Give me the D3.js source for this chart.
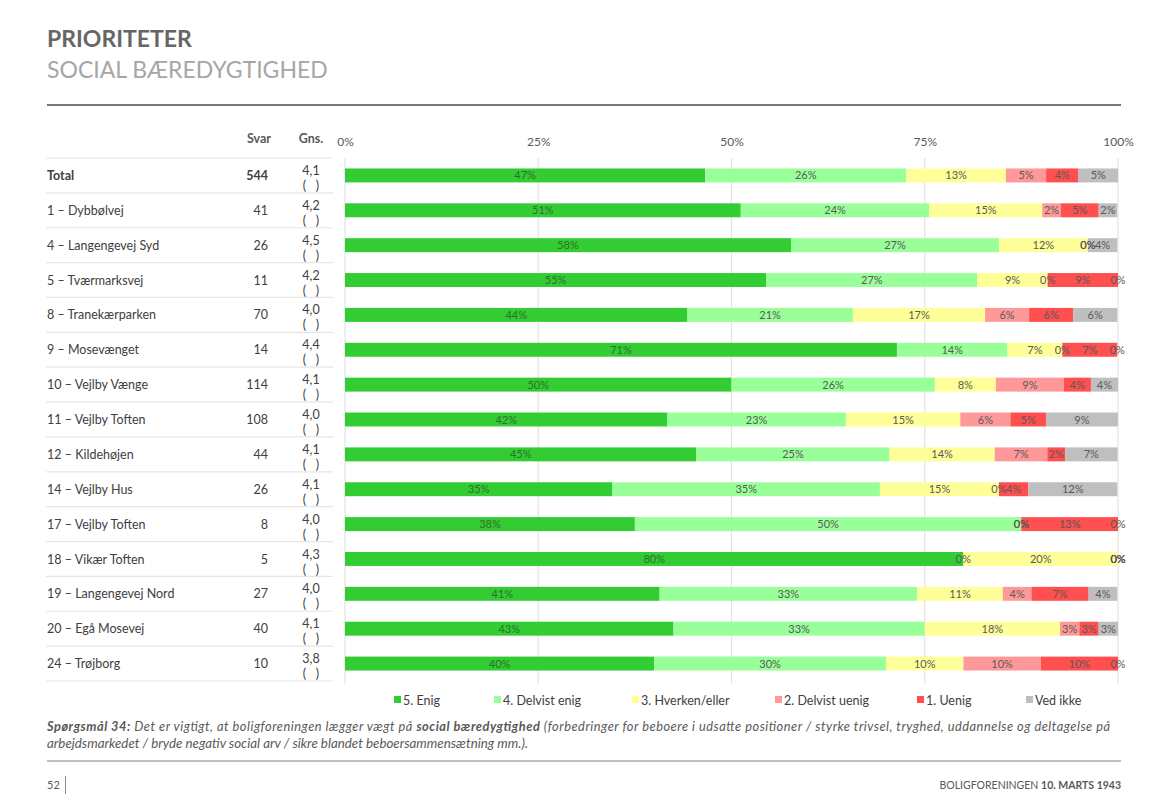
<!DOCTYPE html>
<html>
<head>
<meta charset="utf-8">
<script src="https://cdn.jsdelivr.net/npm/d3@7"></script>
<style>
  html, body { margin: 0; padding: 0; background: #fff; }
  svg { display: block; font-family: Lato, "Open Sans", sans-serif; }
  .pre { white-space: pre; }
</style>
</head>
<body>
<svg id="chart" width="1169" height="810"></svg>
<script>
// ---------- DATA ----------
const categories = [
  "Total", "1 – Dybbølvej", "4 – Langengevej Syd", "5 – Tværmarksvej", "8 – Tranekærparken",
  "9 – Mosevænget", "10 – Vejlby Vænge", "11 – Vejlby Toften", "12 – Kildehøjen", "14 – Vejlby Hus",
  "17 – Vejlby Toften", "18 – Vikær Toften", "19 – Langengevej Nord", "20 – Egå Mosevej", "24 – Trøjborg"
];
const svar = [544, 41, 26, 11, 70, 14, 114, 108, 44, 26, 8, 5, 27, 40, 10];
const gns  = ["4,1", "4,2", "4,5", "4,2", "4,0", "4,4", "4,1", "4,0", "4,1", "4,1", "4,0", "4,3", "4,0", "4,1", "3,8"];

const seriesNames = ["5. Enig", "4. Delvist enig", "3. Hverken/eller", "2. Delvist uenig", "1. Uenig", "Ved ikke"];
// percentages per series, one value per category (same order as categories)
const enig        = [46.6, 51.2, 57.7, 54.5, 44.3, 71.4, 50.0, 41.7, 45.45, 34.6, 37.5, 80, 40.7, 42.5, 40];
const delvistEnig = [26.0, 24.4, 26.9, 27.3, 21.4, 14.3, 26.3, 23.1, 25.0, 34.6, 50, 0, 33.3, 32.5, 30];
const hverken     = [12.9, 14.6, 11.5, 9.1, 17.1, 7.1, 7.9, 14.8, 13.6, 15.4, 0, 20, 11.1, 17.5, 10];
const delvistUenig= [5.2, 2.4, 0, 0, 5.7, 0, 8.8, 6.48, 6.8, 0, 0, 0, 3.7, 2.5, 10];
const uenig       = [4.2, 4.9, 0, 9.1, 5.7, 7.1, 3.5, 4.6, 2.3, 3.8, 12.5, 0, 7.4, 2.5, 10];
const vedIkke     = [5.1, 2.4, 3.8, 0, 5.7, 0, 3.5, 9.3, 6.8, 11.5, 0, 0, 3.7, 2.5, 0];
const seriesValues = [enig, delvistEnig, hverken, delvistUenig, uenig, vedIkke];
const xTicks = [0, 25, 50, 75, 100];

// ---------- STYLE ----------
const colors = ["#33cc33", "#99ff99", "#ffff99", "#ff9999", "#ff4f4f", "#bfbfbf"];
const svg = d3.select("#chart");

// header
svg.append("text").attr("x", 47).attr("y", 47).attr("font-size", 23).attr("font-weight", 700)
  .attr("fill", "#666").text("PRIORITETER");
svg.append("text").attr("x", 47).attr("y", 78).attr("font-size", 23).attr("fill", "#a6a6a6")
  .text("SOCIAL BÆREDYGTIGHED");
svg.append("line").attr("x1", 47).attr("x2", 1121).attr("y1", 105).attr("y2", 105)
  .attr("stroke", "#777").attr("stroke-width", 2);

// scales
const x = d3.scaleLinear().domain([0, 100]).range([345, 1118]);
const y = d3.scaleBand().domain(categories).range([158, 681]).paddingInner(0.6).paddingOuter(0.3);
const rowBand = d3.scaleBand().domain(categories).range([158, 681]).padding(0);

// grid lines
svg.append("g").selectAll("line").data(xTicks).join("line")
  .attr("x1", d => x(d)).attr("x2", d => x(d)).attr("y1", 158).attr("y2", 684)
  .attr("stroke", "#e3e3e3").attr("stroke-width", 1.2);

// top axis labels
const axis = d3.axisTop(x).tickValues(xTicks).tickFormat(d => d + "%").tickSize(0).tickPadding(0);
const axG = svg.append("g").attr("transform", "translate(0,146)").call(axis);
axG.select(".domain").remove();
axG.selectAll("text").attr("font-size", 12).attr("fill", "#595959").attr("font-family", "Lato, sans-serif");

// table header
svg.append("text").attr("x", 259).attr("y", 143).attr("text-anchor", "middle").attr("font-size", 12.5)
  .attr("font-weight", 700).attr("fill", "#595959").text("Svar");
svg.append("text").attr("x", 311).attr("y", 143).attr("text-anchor", "middle").attr("font-size", 12.5)
  .attr("font-weight", 700).attr("fill", "#595959").text("Gns.");

// table separators
svg.append("g").selectAll("line").data(categories.concat(["__end"])).join("line")
  .attr("x1", 46).attr("x2", 333)
  .attr("y1", (d, i) => 158 + i * rowBand.step()).attr("y2", (d, i) => 158 + i * rowBand.step())
  .attr("stroke", "#e6e6e6").attr("stroke-width", 1.2);

// table rows
const rows = svg.append("g").selectAll("g").data(categories).join("g")
  .attr("transform", d => `translate(0,${rowBand(d)})`);
rows.append("text").attr("x", 47).attr("y", 22).attr("font-size", 12.5)
  .attr("font-weight", (d, i) => i === 0 ? 700 : 400).attr("fill", "#404040").text(d => d);
rows.append("text").attr("x", 268).attr("y", 22).attr("text-anchor", "end").attr("font-size", 12.5)
  .attr("font-weight", (d, i) => i === 0 ? 700 : 400).attr("fill", "#404040").text((d, i) => svar[i]);
rows.append("text").attr("x", 311).attr("y", 17).attr("text-anchor", "middle").attr("font-size", 12.5)
  .attr("fill", "#404040").text((d, i) => gns[i]);
rows.append("text").attr("class", "pre").attr("x", 311).attr("y", 32).attr("text-anchor", "middle").attr("font-size", 12.5)
  .attr("fill", "#404040").text("(   )");

// stacked bars
const table = categories.map((c, i) => {
  const o = { cat: c };
  seriesNames.forEach((s, k) => o[s] = seriesValues[k][i]);
  return o;
});
const stacked = d3.stack().keys(seriesNames)(table);

const layers = svg.append("g").selectAll("g").data(stacked).join("g")
  .attr("fill", (d, k) => colors[k]);
layers.selectAll("rect").data(d => d).join("rect")
  .attr("x", d => x(d[0])).attr("width", d => Math.max(0, x(d[1]) - x(d[0])))
  .attr("y", d => y(d.data.cat)).attr("height", y.bandwidth());

const labels = svg.append("g");
stacked.forEach((layer, k) => {
  labels.selectAll(null).data(layer).join("text")
    .attr("x", d => (x(d[0]) + x(d[1])) / 2)
    .attr("y", d => y(d.data.cat) + y.bandwidth() / 2 + 4)
    .attr("text-anchor", "middle").attr("font-size", 11)
    .attr("fill", k === 0 ? "#2f6f2f" : "#595959")
    .text(d => Math.round(d[1] - d[0]) + "%");
});

// legend
const legendX = [394, 494, 632, 775, 917, 1026];
const lg = svg.append("g").selectAll("g").data(seriesNames).join("g")
  .attr("transform", (d, i) => `translate(${legendX[i]},700)`);
lg.append("rect").attr("x", 0).attr("y", -4).attr("width", 7).attr("height", 7).attr("fill", (d, i) => colors[i]);
lg.append("text").attr("x", 9).attr("y", 4.5).attr("font-size", 12.5).attr("fill", "#404040").text(d => d);

// footnote
const fn1 = svg.append("text").attr("x", 47).attr("y", 731).attr("font-size", 12.8).attr("font-style", "italic")
  .attr("fill", "#595959").attr("textLength", 1063).attr("lengthAdjust", "spacing");
fn1.append("tspan").attr("font-weight", 700).text("Spørgsmål 34:");
fn1.append("tspan").text(" Det er vigtigt, at boligforeningen lægger vægt på ");
fn1.append("tspan").attr("font-weight", 700).text("social bæredygtighed");
fn1.append("tspan").text(" (forbedringer for beboere i udsatte positioner / styrke trivsel, tryghed, uddannelse og deltagelse på");
svg.append("text").attr("x", 47).attr("y", 748).attr("font-size", 12.8).attr("font-style", "italic")
  .attr("fill", "#595959").attr("textLength", 481).attr("lengthAdjust", "spacingAndGlyphs")
  .text("arbejdsmarkedet / bryde negativ social arv / sikre blandet beboersammensætning mm.).");

svg.append("line").attr("x1", 47).attr("x2", 1121).attr("y1", 761).attr("y2", 761)
  .attr("stroke", "#bfbfbf").attr("stroke-width", 2);

// footer
svg.append("text").attr("x", 47).attr("y", 789).attr("font-size", 11).attr("fill", "#595959").text("52");
svg.append("line").attr("x1", 65.5).attr("x2", 65.5).attr("y1", 776).attr("y2", 794)
  .attr("stroke", "#8c8c8c").attr("stroke-width", 1);
const ft = svg.append("text").attr("x", 1121).attr("y", 789).attr("text-anchor", "end").attr("font-size", 10.5)
  .attr("fill", "#595959");
ft.append("tspan").text("BOLIGFORENINGEN ");
ft.append("tspan").attr("font-weight", 700).text("10. MARTS 1943");
</script>
</body>
</html>
